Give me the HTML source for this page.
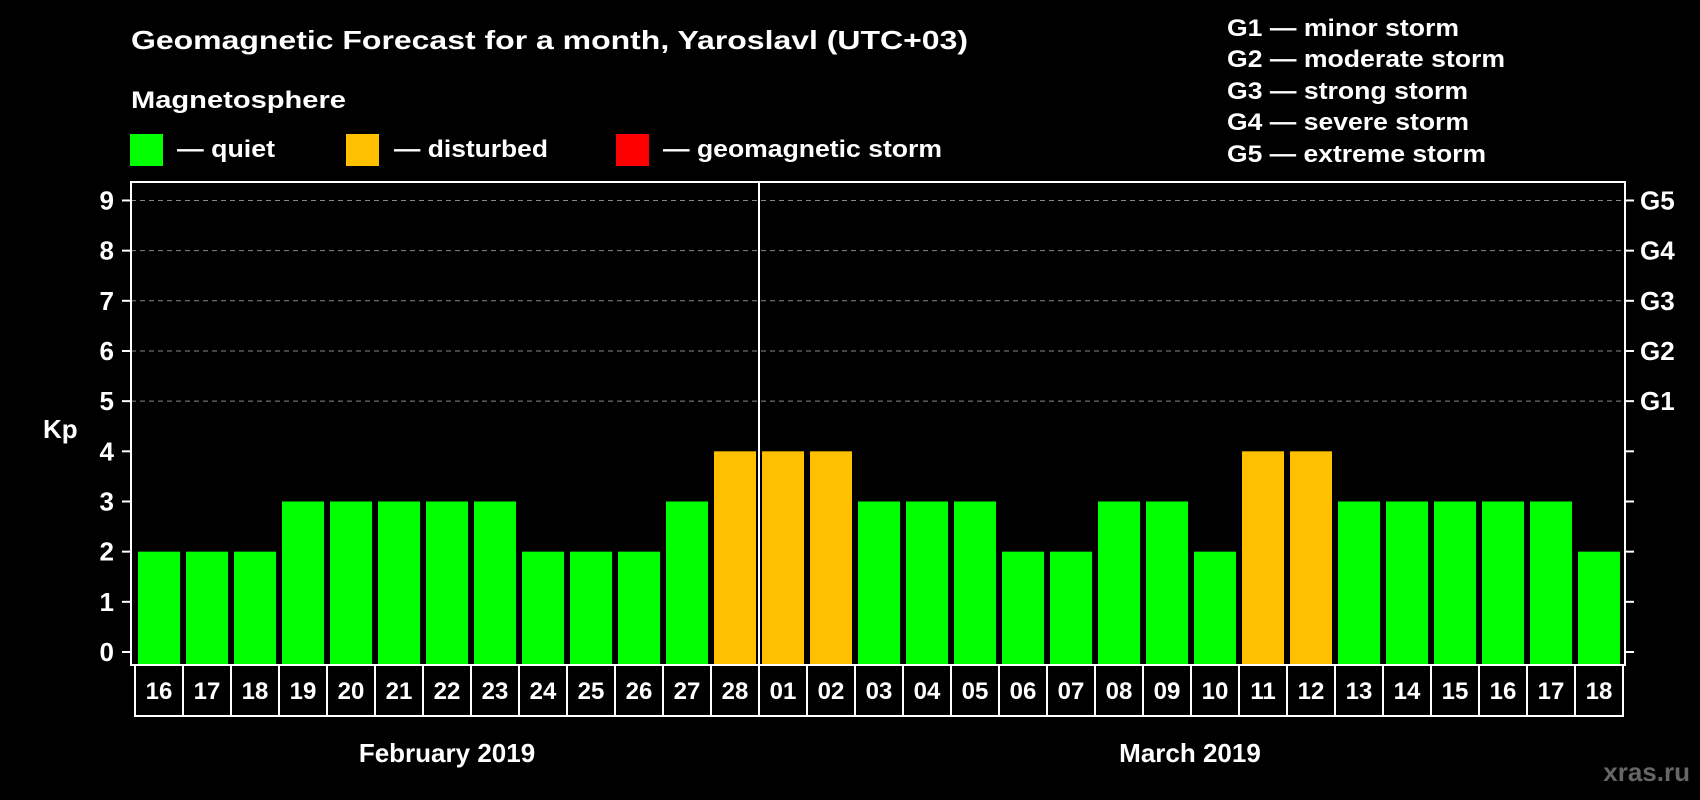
<!DOCTYPE html>
<html><head><meta charset="utf-8"><style>
html,body{margin:0;padding:0;background:#000;width:1700px;height:800px;overflow:hidden}
svg{display:block;font-family:"Liberation Sans",sans-serif;font-weight:bold}
</style></head><body>
<svg id="c" width="1700" height="800">
<text x="131" y="49" fill="#fff" font-size="26" textLength="837" lengthAdjust="spacingAndGlyphs">Geomagnetic Forecast for a month, Yaroslavl (UTC+03)</text>
<text x="131" y="108" fill="#fff" font-size="24" textLength="215" lengthAdjust="spacingAndGlyphs">Magnetosphere</text>
<rect x="130" y="134" width="33" height="32" fill="#00ff00"/>
<text x="177" y="157" fill="#fff" font-size="24" textLength="98" lengthAdjust="spacingAndGlyphs">— quiet</text>
<rect x="346" y="134" width="33" height="32" fill="#ffc000"/>
<text x="394" y="157" fill="#fff" font-size="24" textLength="154" lengthAdjust="spacingAndGlyphs">— disturbed</text>
<rect x="616" y="134" width="33" height="32" fill="#ff0000"/>
<text x="663" y="157" fill="#fff" font-size="24" textLength="279" lengthAdjust="spacingAndGlyphs">— geomagnetic storm</text>
<g font-size="24" fill="#fff">
<text x="1227" y="36" textLength="232" lengthAdjust="spacingAndGlyphs">G1 — minor storm</text>
<text x="1227" y="67" textLength="278" lengthAdjust="spacingAndGlyphs">G2 — moderate storm</text>
<text x="1227" y="99" textLength="241" lengthAdjust="spacingAndGlyphs">G3 — strong storm</text>
<text x="1227" y="130" textLength="242" lengthAdjust="spacingAndGlyphs">G4 — severe storm</text>
<text x="1227" y="162" textLength="259" lengthAdjust="spacingAndGlyphs">G5 — extreme storm</text>
</g>
<text x="43" y="438" fill="#fff" font-size="26">Kp</text>
<text x="447" y="762" fill="#fff" font-size="26" text-anchor="middle">February 2019</text>
<text x="1190" y="762" fill="#fff" font-size="26" text-anchor="middle">March 2019</text>
<text x="1690" y="781" fill="#666" font-size="26" text-anchor="end">xras.ru</text>
<g id="plot"></g>
</svg>
<script>
const days = ["16","17","18","19","20","21","22","23","24","25","26","27","28","01","02","03","04","05","06","07","08","09","10","11","12","13","14","15","16","17","18"];
const kp = [2,2,2,3,3,3,3,3,2,2,2,3,4,4,4,3,3,3,2,2,3,3,2,4,4,3,3,3,3,3,2];
const yTicks = [0,1,2,3,4,5,6,7,8,9];
const gLabels = ["G1","G2","G3","G4","G5"];
const gLevels = [5,6,7,8,9];
const monthBreakIndex = 13;

const NS = "http://www.w3.org/2000/svg";
const plot = document.getElementById("plot");
const L = 131, R = 1625, T = 182, B = 665;
const y0 = 652, unit = 50.17;
const step = 48, firstX = 138, barW = 42;
const yS = v => y0 - v * unit;
const xS = i => firstX + i * step;
function mk(tag, attrs) {
  const e = document.createElementNS(NS, tag);
  for (const k in attrs) e.setAttribute(k, attrs[k]);
  plot.appendChild(e);
  return e;
}
// grid
yTicks.forEach(t => {
  if (t >= 5) {
    const g = mk("line", {x1: L, x2: R, y1: yS(t), y2: yS(t), stroke: "#888", "stroke-width": 1, "stroke-dasharray": "5,4"});
    
    
  }
  const tl = mk("line", {x1: L - 9, x2: L, y1: yS(t), y2: yS(t), stroke: "#fff", "stroke-width": 2});
  
  
  const tr = mk("line", {x1: R, x2: R + 9, y1: yS(t), y2: yS(t), stroke: "#fff", "stroke-width": 2});
  
  
  const lb = mk("text", {x: 114, y: yS(t) + 9, fill: "#fff", "font-size": 26, "text-anchor": "end"});
  lb.textContent = t;
  
  
});
gLabels.forEach((g, i) => {
  const t = mk("text", {x: 1640, y: yS(gLevels[i]) + 9, fill: "#fff", "font-size": 26});
  t.textContent = g;
  
  
});
// bars
kp.forEach((v, i) => {
  const col = v >= 5 ? "#ff0000" : (v >= 4 ? "#ffc000" : "#00ff00");
  const r = mk("rect", {x: xS(i), y: yS(v), width: barW, height: B - 1 - yS(v), fill: col});
  
  
});
// plot frame
const fr = mk("rect", {x: L, y: T, width: R - L, height: B - T, fill: "none", stroke: "#fff", "stroke-width": 2});


const sepX = xS(monthBreakIndex) - (step - barW) / 2;
const sep = mk("line", {x1: sepX, x2: sepX, y1: T, y2: B, stroke: "#fff", "stroke-width": 2});


// date boxes
const boxL = xS(0) - 3, boxR = xS(days.length - 1) + barW + 3;
const db = mk("rect", {x: boxL, y: B, width: boxR - boxL, height: 51, fill: "none", stroke: "#fff", "stroke-width": 2});


days.forEach((d, i) => {
  if (i > 0) {
    const dv = mk("line", {x1: xS(i) - 3, x2: xS(i) - 3, y1: B, y2: B + 51, stroke: "#fff", "stroke-width": 2});
    
    
  }
  const t = mk("text", {x: xS(i) + barW / 2, y: B + 34, fill: "#fff", "font-size": 24, "text-anchor": "middle"});
  t.textContent = d;
  
  
});
</script>
</body></html>
